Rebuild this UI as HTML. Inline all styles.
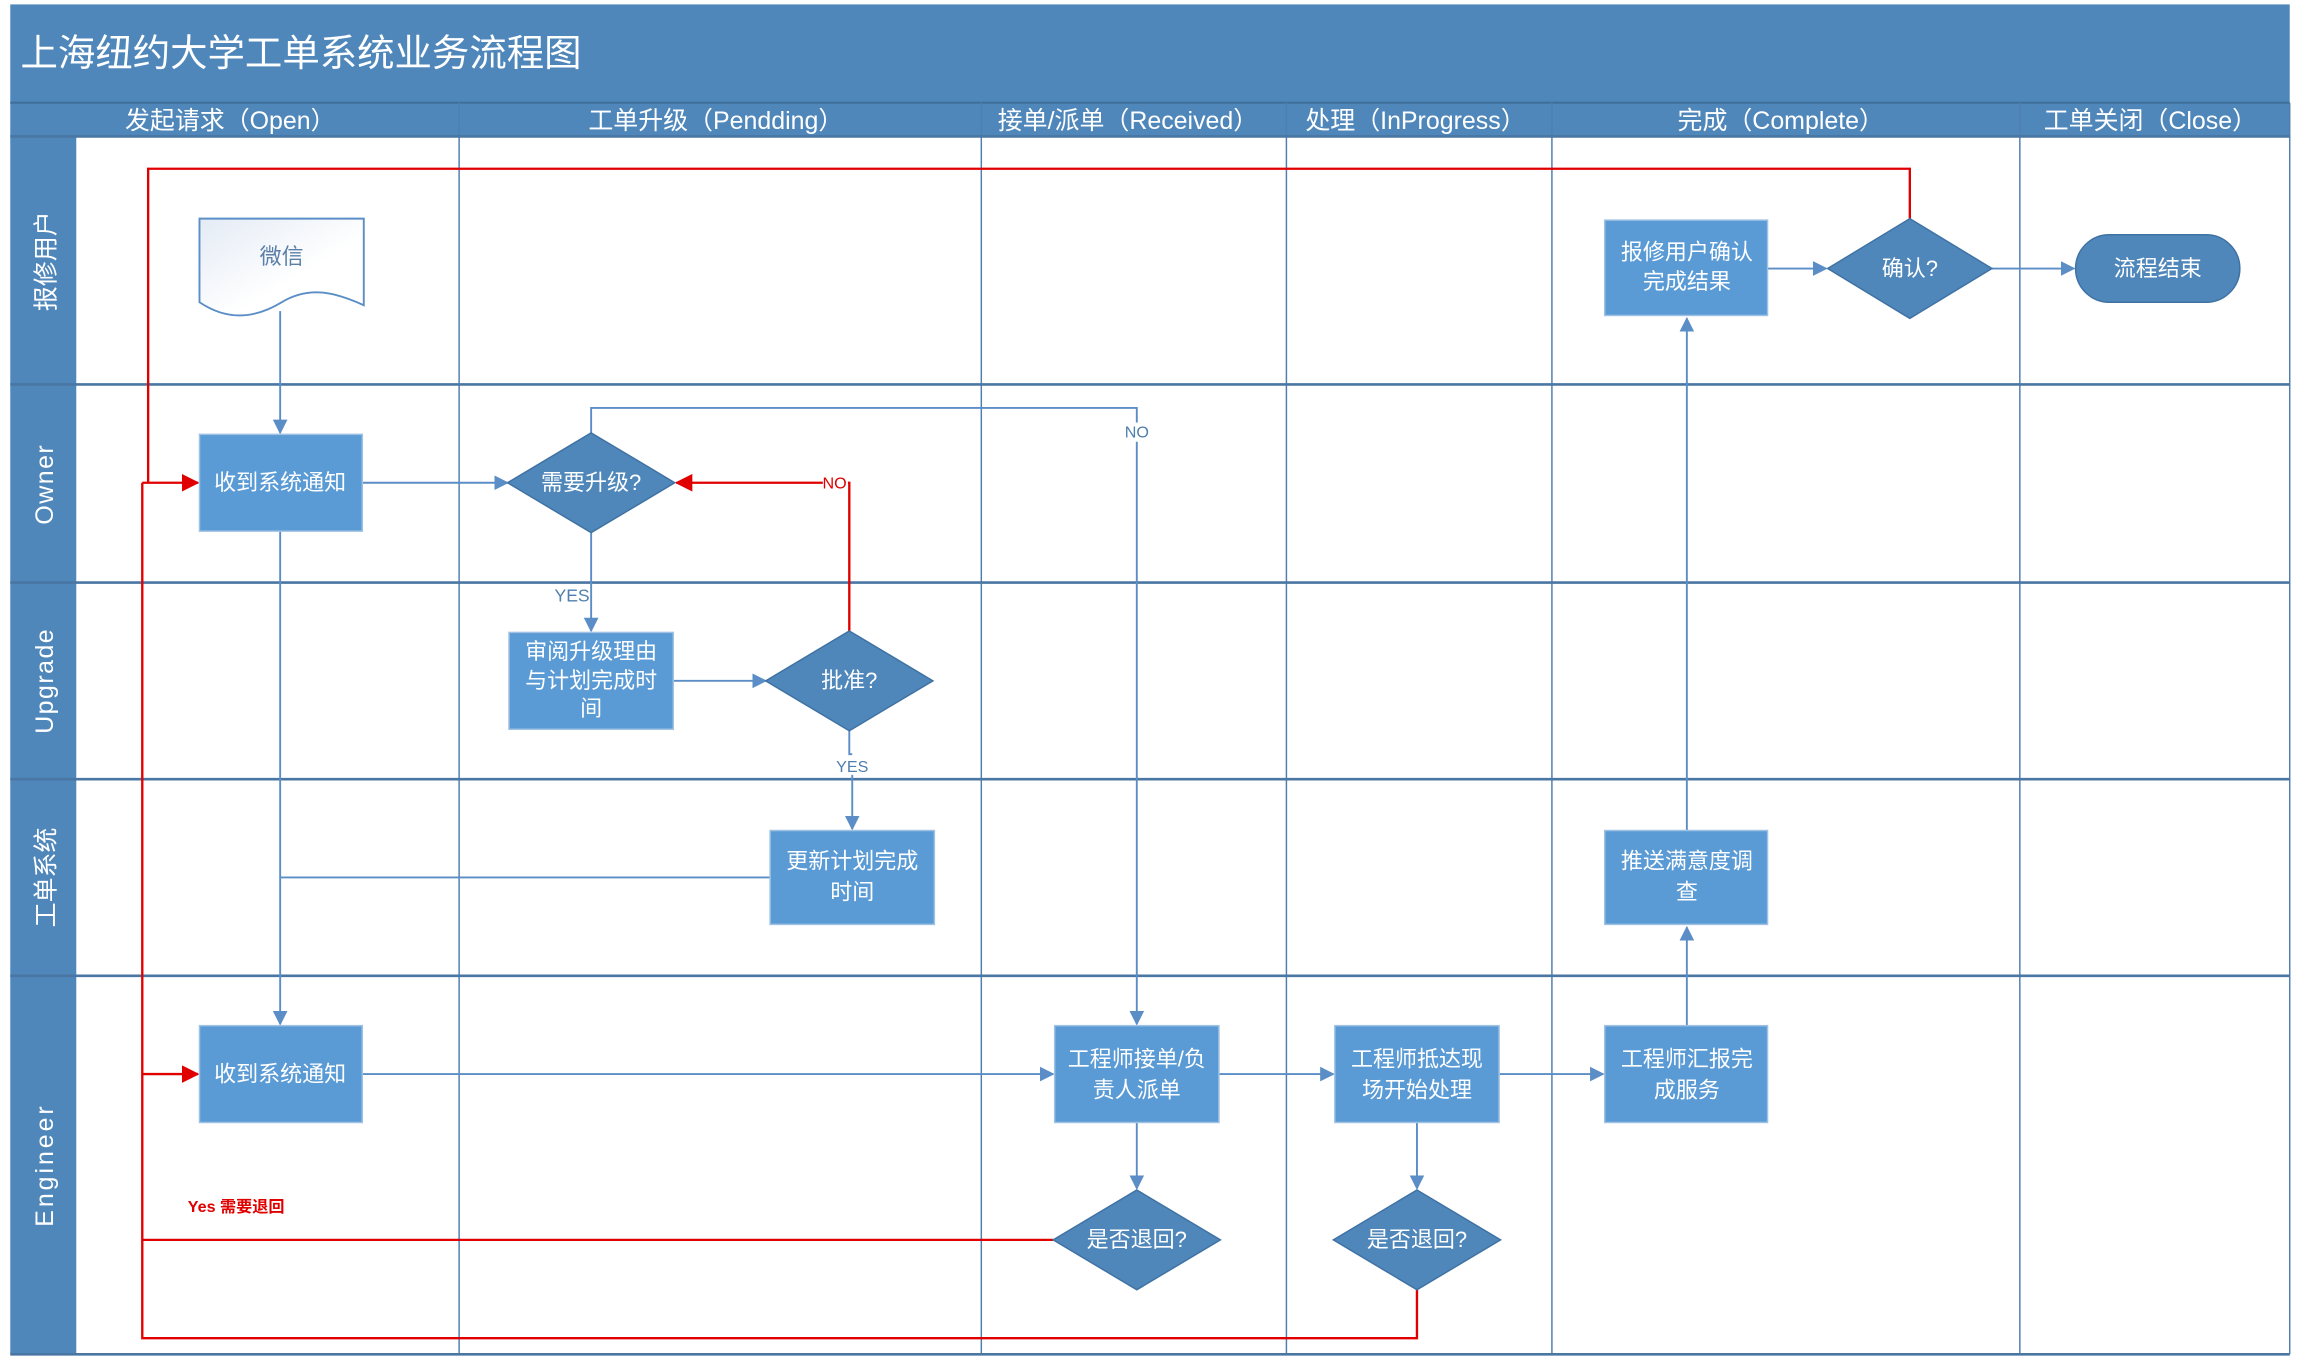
<!DOCTYPE html>
<html><head><meta charset="utf-8">
<style>
html,body{margin:0;padding:0;background:#fff;}
svg{display:block;}
text{font-family:"Liberation Sans","Noto Sans CJK SC",sans-serif;}
</style></head>
<body>
<svg width="2300" height="1369" viewBox="0 0 1568 933" preserveAspectRatio="none" xmlns="http://www.w3.org/2000/svg">
<defs>
<marker id="ab" markerWidth="10" markerHeight="10" refX="9" refY="5" orient="auto" markerUnits="userSpaceOnUse"><path d="M0,0 L10,5 L0,10 z" fill="#5b8ec6"/></marker>
<marker id="ar" markerWidth="12" markerHeight="12" refX="11" refY="6" orient="auto" markerUnits="userSpaceOnUse"><path d="M0,0 L12,6 L0,12 z" fill="#e00000"/></marker>
<linearGradient id="doc" x1="0" y1="0" x2="1" y2="1"><stop offset="0" stop-color="#e4ebf5"/><stop offset="0.6" stop-color="#ffffff"/></linearGradient>
</defs>
<rect x="0" y="0" width="1568" height="933" fill="#fff"/>
<rect x="7" y="3" width="1554" height="67" fill="#4f87bb"/>
<text x="14" y="45" font-size="25.5" fill="#fff">上海纽约大学工单系统业务流程图</text>
<rect x="7" y="70" width="1554" height="23" fill="#4f87bb"/>
<line x1="7" y1="70" x2="1561" y2="70" stroke="#3f6f9c" stroke-width="1.5"/>
<g font-size="17" fill="#fff" text-anchor="middle">
<text x="157" y="88">发起请求（Open）</text>
<text x="488" y="88">工单升级（Pendding）</text>
<text x="769" y="88">接单/派单（Received）</text>
<text x="965" y="88">处理（InProgress）</text>
<text x="1214" y="88">完成（Complete）</text>
<text x="1466" y="88">工单关闭（Close）</text>
</g>
<rect x="7" y="93" width="45" height="830" fill="#4f87bb"/>
<g stroke="#4f7fae" stroke-width="1">
<line x1="313" y1="70" x2="313" y2="923"/>
<line x1="669" y1="70" x2="669" y2="923"/>
<line x1="877" y1="70" x2="877" y2="923"/>
<line x1="1058" y1="70" x2="1058" y2="923"/>
<line x1="1377" y1="70" x2="1377" y2="923"/>
<line x1="1561" y1="70" x2="1561" y2="923"/>
</g>
<g stroke="#4a76a3" stroke-width="1.8">
<line x1="7" y1="93" x2="1561" y2="93"/>
<line x1="7" y1="262" x2="1561" y2="262"/>
<line x1="7" y1="397" x2="1561" y2="397"/>
<line x1="7" y1="531" x2="1561" y2="531"/>
<line x1="7" y1="665" x2="1561" y2="665"/>
<line x1="7" y1="923" x2="1561" y2="923"/>
</g>
<g font-size="17" fill="#fff" text-anchor="middle">
<text transform="translate(37,178) rotate(-90)">报修用户</text>
<text transform="translate(36,330) rotate(-90)" letter-spacing="1">Owner</text>
<text transform="translate(36,464) rotate(-90)" letter-spacing="1">Upgrade</text>
<text transform="translate(37,598) rotate(-90)">工单系统</text>
<text transform="translate(36,794) rotate(-90)" letter-spacing="2">Engineer</text>
</g>
<g stroke="#5b8ec6" stroke-width="1.3" fill="none">
<line x1="191" y1="212" x2="191" y2="295" marker-end="url(#ab)"/>
<line x1="247" y1="329" x2="346" y2="329" marker-end="url(#ab)"/>
<polyline points="403,295 403,278 775,278 775,288"/>
<line x1="775" y1="301" x2="775" y2="698" marker-end="url(#ab)"/>
<line x1="403" y1="363" x2="403" y2="430" marker-end="url(#ab)"/>
<line x1="459" y1="464" x2="522" y2="464" marker-end="url(#ab)"/>
<polyline points="579,498 579,514 581,514"/>
<line x1="581" y1="528" x2="581" y2="565" marker-end="url(#ab)"/>
<line x1="191" y1="362" x2="191" y2="698" marker-end="url(#ab)"/>
<line x1="525" y1="598" x2="191" y2="598"/>
<line x1="247" y1="732" x2="718" y2="732" marker-end="url(#ab)"/>
<line x1="775" y1="765" x2="775" y2="810" marker-end="url(#ab)"/>
<line x1="831" y1="732" x2="909" y2="732" marker-end="url(#ab)"/>
<line x1="966" y1="765" x2="966" y2="810" marker-end="url(#ab)"/>
<line x1="1022" y1="732" x2="1093" y2="732" marker-end="url(#ab)"/>
<line x1="1150" y1="699" x2="1150" y2="632" marker-end="url(#ab)"/>
<line x1="1150" y1="566" x2="1150" y2="217" marker-end="url(#ab)"/>
<line x1="1205" y1="183" x2="1245" y2="183" marker-end="url(#ab)"/>
<line x1="1358" y1="183" x2="1414" y2="183" marker-end="url(#ab)"/>
</g>
<g stroke="#e00000" stroke-width="1.6" fill="none">
<polyline points="1302,149 1302,115 101,115 101,329"/>
<line x1="97" y1="329" x2="135" y2="329" marker-end="url(#ar)"/>
<polyline points="97,329 97,912 966,912 966,879"/>
<line x1="97" y1="732" x2="135" y2="732" marker-end="url(#ar)"/>
<line x1="718" y1="845" x2="97" y2="845"/>
<polyline points="579,430 579,329 578,329"/>
<line x1="561" y1="329" x2="461" y2="329" marker-end="url(#ar)"/>
</g>
<g font-size="11" fill="#4f7fae" text-anchor="middle">
<rect x="764" y="288" width="22" height="13" fill="#fff"/>
<text x="775" y="298">NO</text>
<rect x="377" y="399" width="24" height="14" fill="#fff"/>
<text x="390" y="410" font-size="12">YES</text>
<rect x="570" y="515" width="22" height="13" fill="#fff"/>
<text x="581" y="526">YES</text>
</g>
<rect x="561" y="322" width="17" height="13" fill="#fff"/>
<text x="569" y="333" font-size="11" fill="#e00000" text-anchor="middle">NO</text>
<text x="128" y="826" font-size="11" font-weight="bold" fill="#e00000">Yes 需要退回</text>
<path d="M136,149 L248,149 L248,208 C230,200 212,194 192,206 C172,218 154,218 136,206 Z" fill="url(#doc)" stroke="#5b8ec6" stroke-width="1.3"/>
<text x="192" y="180" font-size="15" fill="#5a7fa8" text-anchor="middle">微信</text>
<g fill="#5b9bd5" stroke="#9fc2e4" stroke-width="1">
<rect x="136" y="296" width="111" height="66"/>
<rect x="347" y="431" width="112" height="66"/>
<rect x="525" y="566" width="112" height="64"/>
<rect x="136" y="699" width="111" height="66"/>
<rect x="719" y="699" width="112" height="66"/>
<rect x="910" y="699" width="112" height="66"/>
<rect x="1094" y="699" width="111" height="66"/>
<rect x="1094" y="566" width="111" height="64"/>
<rect x="1094" y="150" width="111" height="65"/>
</g>
<g fill="#4f87ba" stroke="#3f72a3" stroke-width="1">
<polygon points="403,295 460,329 403,363 346,329"/>
<polygon points="579,430 636,464 579,498 522,464"/>
<polygon points="775,811 832,845 775,879 718,845"/>
<polygon points="966,811 1023,845 966,879 909,845"/>
<polygon points="1302,149 1358,183 1302,217 1246,183"/>
</g>
<rect x="1415" y="160" width="112" height="46" rx="23" fill="#4f87ba" stroke="#3f72a3"/>
<g font-size="15" fill="#fff" text-anchor="middle">
<text x="191" y="334">收到系统通知</text>
<text x="403" y="334">需要升级?</text>
<text x="403" y="449">审阅升级理由</text>
<text x="403" y="469">与计划完成时</text>
<text x="403" y="488">间</text>
<text x="579" y="469">批准?</text>
<text x="581" y="592">更新计划完成</text>
<text x="581" y="613">时间</text>
<text x="191" y="737">收到系统通知</text>
<text x="775" y="727">工程师接单/负</text>
<text x="775" y="748">责人派单</text>
<text x="775" y="850">是否退回?</text>
<text x="966" y="727">工程师抵达现</text>
<text x="966" y="748">场开始处理</text>
<text x="966" y="850">是否退回?</text>
<text x="1150" y="727">工程师汇报完</text>
<text x="1150" y="748">成服务</text>
<text x="1150" y="592">推送满意度调</text>
<text x="1150" y="613">查</text>
<text x="1150" y="177">报修用户确认</text>
<text x="1150" y="197">完成结果</text>
<text x="1302" y="188">确认?</text>
<text x="1471" y="188">流程结束</text>
</g>
</svg>
</body></html>
